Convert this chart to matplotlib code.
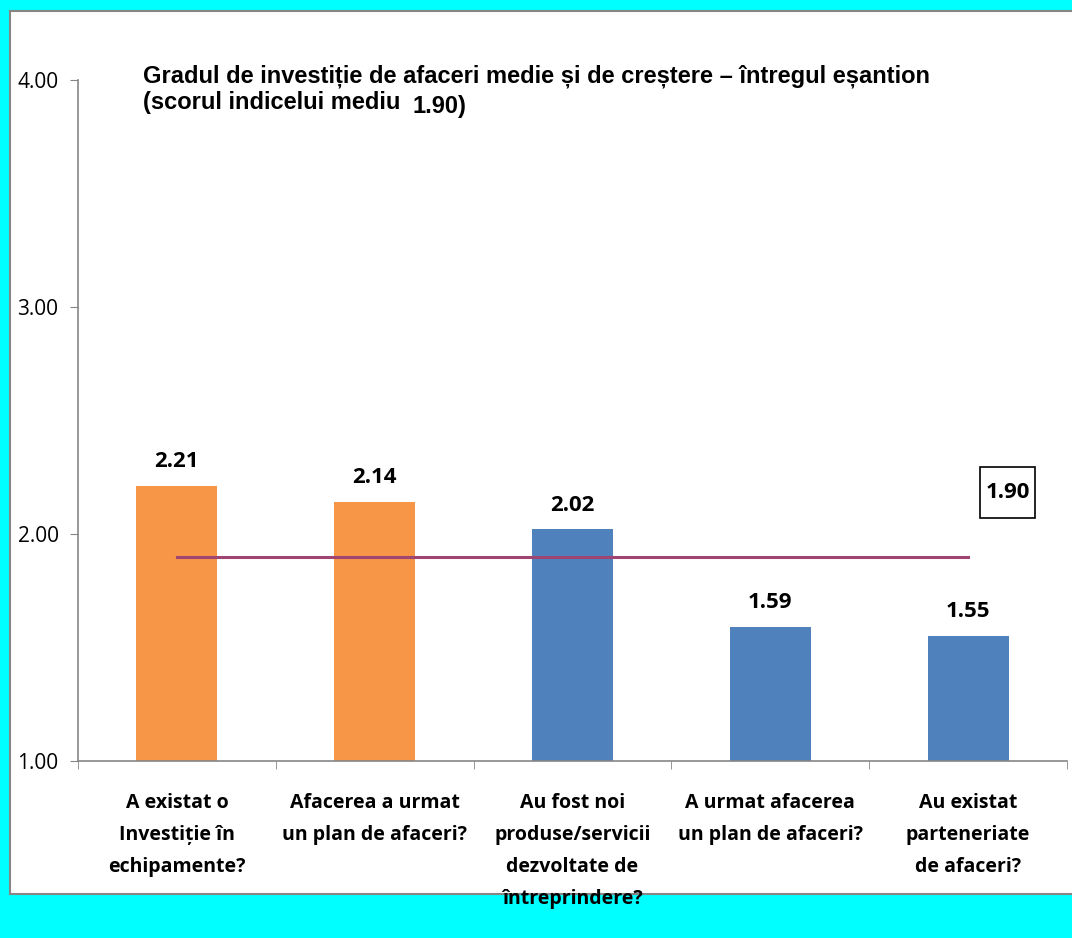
import matplotlib
matplotlib.use("Agg")
from matplotlib import pyplot as plt
from matplotlib.patches import Rectangle

# chart data
categories = [
    "A existat o\nInvestiție în\nechipamente?",
    "Afacerea a urmat\nun plan de afaceri?",
    "Au fost noi\nproduse/servicii\ndezvoltate de\nîntreprindere?",
    "A urmat afacerea\nun plan de afaceri?",
    "Au existat\nparteneriate\nde afaceri?",
]
scores = [2.21, 2.14, 2.02, 1.59, 1.55]
mean_score = 1.90
highlighted = [True, True, False, False, False]
yticks = [1.0, 2.0, 3.0, 4.0]
title_line1 = "Gradul de investiție de afaceri medie și de creștere – întregul eșantion"
title_line2 = "(scorul indicelui mediu"

ORANGE = "#F79646"
BLUE = "#4F81BD"
LINE_COL = "#A04472"
GREY = "#868686"
SANS = ["Open Sans", "DejaVu Sans"]
ARIAL = ["Liberation Sans", "DejaVu Sans"]

W, H = 1072, 938
fig = plt.figure(figsize=(W / 100, H / 100), dpi=100, facecolor="#00FFFF")

# white chart panel over the cyan background
panel = Rectangle((10 / W, 1 - 894 / H), 1.0, (894 - 11) / H, transform=fig.transFigure,
                  facecolor="white", edgecolor=GREY, lw=1.5, zorder=-1)
fig.patches.append(panel)

ax = fig.add_axes([78 / W, 1 - 761 / H, (1067 - 78) / W, (761 - 80) / H])
ax.set_facecolor("none")

x = list(range(len(categories)))
bar_colors = [ORANGE if h else BLUE for h in highlighted]
ax.bar(x, scores, width=0.41, color=bar_colors, zorder=2)

# average line from first to last category
ax.plot(x, [mean_score] * len(x), color=LINE_COL, lw=2.2, zorder=3)

# value labels above bars
for xi, v in zip(x, scores):
    ax.annotate(f"{v:.2f}", (xi, v), xytext=(0, 10), textcoords="offset points",
                ha="center", va="bottom", fontsize=16, fontweight="bold", family=SANS)

# boxed mean label (box drawn separately to get the taller shape)
lab_x, lab_y = 4.2, 2.183
ax.add_patch(Rectangle((lab_x - 0.139, lab_y - 0.112), 0.278, 0.224, facecolor="white",
                       edgecolor="black", lw=1.2, zorder=4, clip_on=False))
ax.text(lab_x, lab_y, f"{mean_score:.2f}", ha="center", va="center", fontsize=16,
        fontweight="bold", family=SANS, zorder=5)

ax.set_ylim(1.0, 4.0)
ax.set_xlim(-0.5, 4.5)
ax.set_yticks(yticks)
ax.set_yticklabels([f"{t:.2f}" for t in yticks], fontsize=15, family=SANS)

ax.set_xticks(x)
ax.set_xticklabels(categories, fontsize=14, fontweight="bold", family=SANS, linespacing=1.8)
ax.set_xticks([i - 0.5 for i in range(len(categories) + 1)], minor=True)
ax.tick_params(axis="x", which="major", length=0, pad=23)
ax.tick_params(axis="x", which="minor", length=6, color=GREY, direction="out")
ax.tick_params(axis="y", length=6, color=GREY, direction="out", pad=8)

for side in ["top", "right"]:
    ax.spines[side].set_visible(False)
for side in ["left", "bottom"]:
    ax.spines[side].set_color(GREY)
    ax.spines[side].set_linewidth(1.2)

# title inside the plot area
fig.text(143 / W, 1 - 82 / H, title_line1, fontsize=17, fontweight="bold",
         family=ARIAL, va="baseline", ha="left")
fig.text(143 / W, 1 - 109 / H, title_line2, fontsize=17, fontweight="bold",
         family=ARIAL, va="baseline", ha="left")
fig.text(413 / W, 1 - 113 / H, f"{mean_score:.2f})", fontsize=17, fontweight="bold",
         family=ARIAL, va="baseline", ha="left")

fig.savefig("out.png", dpi=100, facecolor=fig.get_facecolor())
